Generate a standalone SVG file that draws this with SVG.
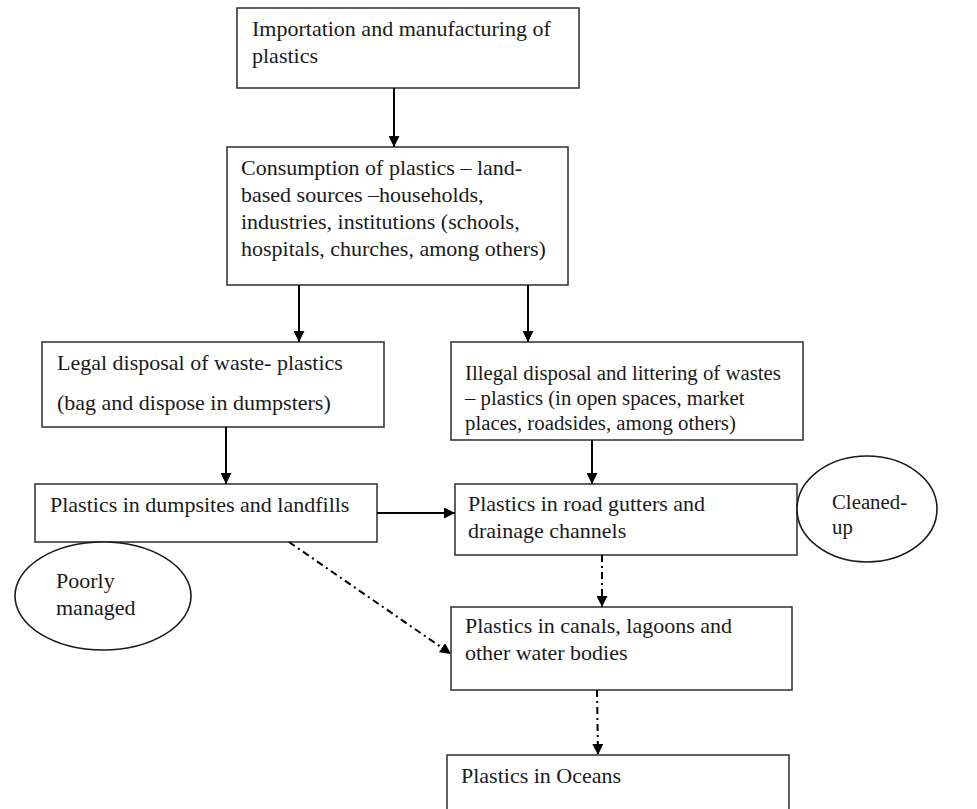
<svg xmlns="http://www.w3.org/2000/svg" width="977" height="809" viewBox="0 0 977 809">
<style>
.box{fill:#fff;stroke:#3a3a3a;stroke-width:1.6}
.ell{fill:#fff;stroke:#1a1a1a;stroke-width:1.6}
.t{font-family:"Liberation Serif","Times New Roman",serif;font-size:22px;fill:#1a1a1a}
.s{font-size:20.8px}
.c{stroke:#000;stroke-width:2;fill:none}
.dd{stroke-dasharray:7 4 2 4}
</style>
<defs>
<marker id="ah" viewBox="0 0 10 10" refX="10" refY="5" markerWidth="11" markerHeight="11" markerUnits="userSpaceOnUse" orient="auto">
<path d="M0,0 L10,5 L0,10 z" fill="#000"/>
</marker>
</defs>
<rect width="977" height="809" fill="#fff"/>
<g id="n1"><rect class="box" x="237" y="8" width="342" height="80"/>
<text class="t" x="252" y="36">Importation and manufacturing of</text>
<text class="t" x="252" y="63">plastics</text></g>
<g id="n2"><rect class="box" x="227" y="147" width="341" height="138"/>
<text class="t" x="241" y="175">Consumption of plastics – land-</text>
<text class="t" x="241" y="202">based sources –households,</text>
<text class="t" x="241" y="229">industries, institutions (schools,</text>
<text class="t" x="241" y="256">hospitals, churches, among others)</text></g>
<g id="n3"><rect class="box" x="42" y="342" width="342" height="85"/>
<text class="t" x="57" y="370">Legal disposal of waste- plastics</text>
<text class="t" x="57" y="410">(bag and dispose in dumpsters)</text></g>
<g id="n4"><rect class="box" x="451" y="342" width="352" height="98"/>
<text class="t s" x="465" y="380">Illegal disposal and littering of wastes</text>
<text class="t s" x="465" y="405">– plastics (in open spaces, market</text>
<text class="t s" x="465" y="430">places, roadsides, among others)</text></g>
<g id="n5"><rect class="box" x="35" y="484" width="342" height="58"/>
<text class="t" x="50" y="512">Plastics in dumpsites and landfills</text></g>
<g id="n6"><rect class="box" x="455" y="484" width="342" height="71"/>
<text class="t" x="468" y="511">Plastics in road gutters and</text>
<text class="t" x="468" y="538">drainage channels</text></g>
<g id="n7"><ellipse class="ell" cx="867" cy="509" rx="70" ry="53"/>
<text class="t s" x="832" y="509">Cleaned-</text>
<text class="t s" x="832" y="534">up</text></g>
<g id="n8"><ellipse class="ell" cx="103" cy="596" rx="88" ry="54"/>
<text class="t" x="56" y="588">Poorly</text>
<text class="t" x="56" y="615">managed</text></g>
<g id="n9"><rect class="box" x="451" y="607" width="341" height="83"/>
<text class="t" x="465" y="633">Plastics in canals, lagoons and</text>
<text class="t" x="465" y="660">other water bodies</text></g>
<g id="n10"><rect class="box" x="447" y="755" width="342" height="70"/>
<text class="t" x="461" y="783">Plastics in Oceans</text></g>
<g id="connectors">
<line class="c" x1="394" y1="88" x2="394" y2="147" marker-end="url(#ah)"/>
<line class="c" x1="299" y1="285" x2="299" y2="342" marker-end="url(#ah)"/>
<line class="c" x1="528" y1="285" x2="528" y2="342" marker-end="url(#ah)"/>
<line class="c" x1="226" y1="427" x2="226" y2="484" marker-end="url(#ah)"/>
<line class="c" x1="592" y1="440" x2="592" y2="484" marker-end="url(#ah)"/>
<line class="c" x1="377" y1="513" x2="455" y2="513" marker-end="url(#ah)"/>
<line class="c dd" x1="602" y1="555" x2="602" y2="607" marker-end="url(#ah)"/>
<line class="c dd" x1="289" y1="542" x2="451" y2="654" marker-end="url(#ah)"/>
<line class="c dd" x1="597" y1="690" x2="598" y2="755" marker-end="url(#ah)"/>
</g>
</svg>
